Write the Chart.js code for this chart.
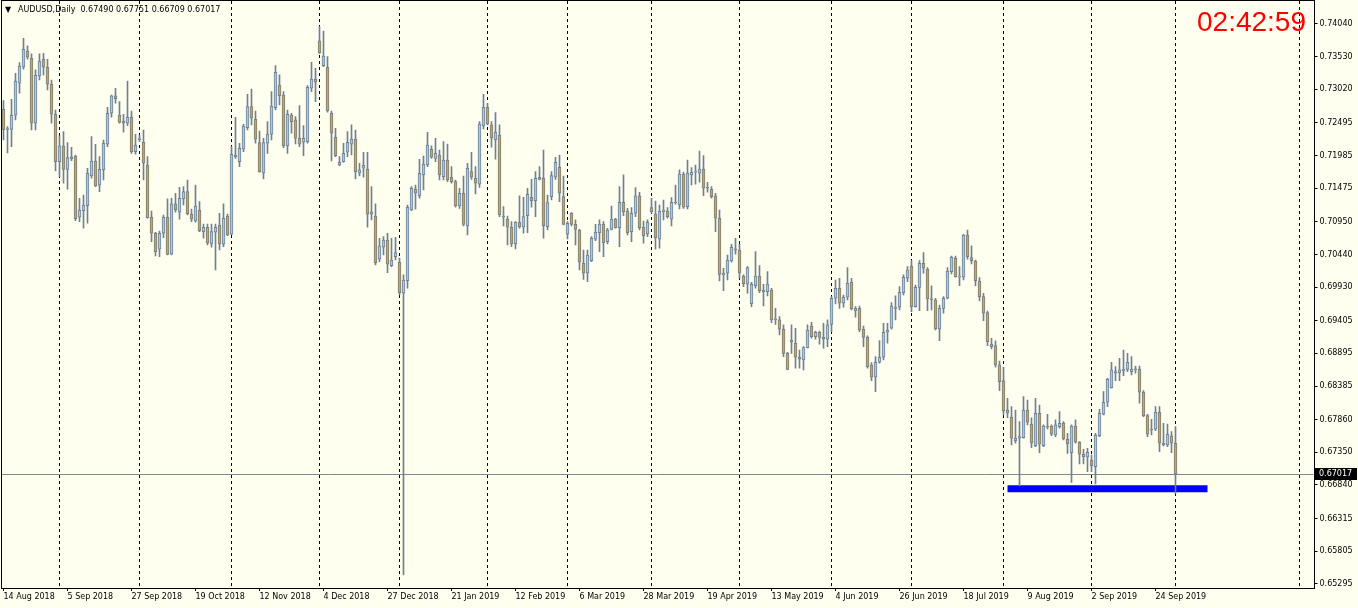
<!DOCTYPE html>
<html>
<head>
<meta charset="utf-8">
<script src="https://cdn.jsdelivr.net/npm/chart.js@4.4.1/dist/chart.umd.min.js"></script>
<style>
  html, body { margin: 0; padding: 0; background: #fffff0; }
  #wrap { width: 1358px; height: 608px; }
</style>
</head>
<body>
<div id="wrap"><canvas id="chart" width="1358" height="608"></canvas></div>
<script>
// AUDUSD daily candles, 14 Aug 2018 .. 1 Oct 2019
const openP = [
  0.72708,0.72392,0.72395,0.72614,0.73114,0.73364,0.73614,0.73504,0.72489,0.73228,
  0.73489,0.73364,0.73098,0.72630,0.71889,0.72135,0.71770,0.71963,0.71978,0.71021,
  0.71124,0.71202,0.71666,0.71900,0.71521,0.71760,0.72161,0.72645,0.72916,0.72619,
  0.72525,0.72489,0.72583,0.72045,0.72244,0.72192,0.71838,0.71021,0.70771,0.70521,
  0.70771,0.71021,0.70443,0.71229,0.71099,0.71307,0.71421,0.71072,0.70963,0.71135,
  0.70796,0.70865,0.70604,0.70787,0.70900,0.70599,0.71041,0.70755,0.71994,0.71889,
  0.72083,0.72420,0.72748,0.72552,0.72186,0.71708,0.72177,0.72317,0.72733,0.73087,
  0.72931,0.72135,0.72619,0.72541,0.72255,0.72192,0.72202,0.73036,0.73181,0.73775,
  0.73389,0.73364,0.72645,0.72270,0.71838,0.71889,0.72036,0.72161,0.72244,0.71708,
  0.71786,0.71775,0.71068,0.71041,0.70365,0.70552,0.70666,0.70265,0.70405,0.70318,
  0.69834,0.70030,0.71135,0.71463,0.71354,0.71682,0.71838,0.72083,0.71942,0.71994,
  0.71655,0.71916,0.71646,0.71577,0.71197,0.71396,0.70885,0.71733,0.71630,0.71536,
  0.72447,0.72739,0.72463,0.72228,0.72306,0.71041,0.70990,0.70865,0.70604,0.70943,
  0.70865,0.71046,0.71333,0.71280,0.71646,0.71630,0.70874,0.71343,0.71646,0.71802,
  0.71343,0.70755,0.71083,0.70911,0.70822,0.70302,0.70146,0.70343,0.70677,0.70780,
  0.70916,0.70640,0.70833,0.70994,0.70858,0.71255,0.71119,0.70796,0.71083,0.71354,
  0.70865,0.70760,0.71171,0.71072,0.70677,0.71108,0.71119,0.70990,0.71255,0.71213,
  0.71697,0.71186,0.71682,0.71724,0.71708,0.71775,0.71489,0.71458,0.71354,0.71005,
  0.70120,0.70146,0.70338,0.70526,0.70510,0.70104,0.69974,0.69671,0.69952,0.70104,
  0.69885,0.69859,0.69885,0.69432,0.69417,0.69271,0.68896,0.69104,0.69053,0.68834,
  0.68792,0.68984,0.69323,0.69156,0.69225,0.69146,0.69115,0.69349,0.69756,0.69912,
  0.69678,0.69771,0.70006,0.69562,0.69599,0.69271,0.69146,0.68714,0.68522,0.68756,
  0.68834,0.69225,0.69287,0.69599,0.69615,0.69843,0.70068,0.70260,0.69624,0.69927,
  0.70302,0.70209,0.69745,0.69729,0.69271,0.69599,0.69756,0.70171,0.70380,0.70084,
  0.70084,0.70744,0.70390,0.70338,0.70026,0.69781,0.69531,0.69042,0.69015,0.68714,
  0.68469,0.68011,0.67897,0.67531,0.67569,0.67578,0.68011,0.67787,0.67453,0.67959,
  0.67453,0.67761,0.67761,0.67620,0.67750,0.67803,0.67553,0.67344,0.67761,0.67506,
  0.67319,0.67272,0.67230,0.67125,0.67609,0.67944,0.68131,0.68359,0.68584,0.68593,
  0.68625,0.68646,0.68609,0.68646,0.68646,0.68287,0.67922,0.67714,0.67709,0.67975,
  0.67491,0.67464,0.67605,0.67490
];
const highP = [
  0.72842,0.72436,0.72864,0.73270,0.73436,0.73817,0.73697,0.73572,0.73322,0.73572,
  0.73583,0.73489,0.73165,0.72697,0.72291,0.72358,0.72186,0.72114,0.71994,0.71318,
  0.71369,0.71786,0.72280,0.72161,0.71967,0.72228,0.72739,0.72931,0.73036,0.72826,
  0.72630,0.73150,0.72681,0.72317,0.72306,0.72384,0.71967,0.71119,0.70787,0.70807,
  0.71057,0.71307,0.71318,0.71396,0.71489,0.71499,0.71603,0.71150,0.71525,0.71264,
  0.70916,0.70916,0.70916,0.70916,0.71083,0.71229,0.71072,0.72124,0.72583,0.72177,
  0.72473,0.72942,0.73025,0.72681,0.72369,0.72255,0.72514,0.72983,0.73389,0.73244,
  0.72983,0.72697,0.72645,0.72592,0.72764,0.72452,0.73076,0.73442,0.73348,0.73998,
  0.73931,0.73529,0.72681,0.72411,0.71967,0.72177,0.72358,0.72463,0.72384,0.71864,
  0.72036,0.72036,0.71499,0.71229,0.70693,0.70718,0.70771,0.70693,0.70708,0.70385,
  0.70120,0.71213,0.71499,0.71525,0.71927,0.71978,0.72349,0.72135,0.72255,0.72072,
  0.72202,0.72166,0.71811,0.71603,0.71474,0.71666,0.71864,0.72036,0.71811,0.72514,
  0.72942,0.72802,0.72514,0.72655,0.72463,0.71186,0.71041,0.70952,0.70952,0.71354,
  0.71333,0.71474,0.71614,0.71733,0.71811,0.72072,0.71369,0.71733,0.71958,0.71994,
  0.71666,0.70952,0.71093,0.70979,0.70833,0.70510,0.70510,0.70718,0.70911,0.70979,
  0.70952,0.70849,0.71197,0.71005,0.71499,0.71682,0.71161,0.71171,0.71483,0.71411,
  0.70963,0.70979,0.71318,0.71275,0.71213,0.71291,0.71171,0.71327,0.71525,0.71760,
  0.71728,0.71916,0.71796,0.71838,0.72056,0.71983,0.71568,0.71499,0.71396,0.71135,
  0.70224,0.70432,0.70599,0.70693,0.70599,0.70120,0.70249,0.70006,0.70483,0.70265,
  0.69974,0.70171,0.69912,0.69599,0.69468,0.69339,0.68912,0.69339,0.69287,0.68948,
  0.69000,0.69339,0.69381,0.69245,0.69245,0.69365,0.69417,0.69781,0.70041,0.70068,
  0.69807,0.70234,0.70068,0.69624,0.69635,0.69323,0.69167,0.68750,0.68843,0.69093,
  0.69365,0.69365,0.69687,0.69792,0.69937,0.70120,0.70249,0.70343,0.69963,0.70343,
  0.70468,0.70234,0.69948,0.69756,0.69651,0.69781,0.70234,0.70416,0.70416,0.70249,
  0.70755,0.70822,0.70573,0.70354,0.70077,0.69834,0.69557,0.69131,0.69089,0.68776,
  0.68678,0.68194,0.68062,0.68011,0.67828,0.68219,0.68167,0.67890,0.68194,0.68089,
  0.67777,0.67944,0.67777,0.67855,0.67984,0.67828,0.67647,0.67777,0.67855,0.67516,
  0.67397,0.67413,0.67308,0.67647,0.68022,0.68297,0.68506,0.68756,0.68687,0.68818,
  0.68948,0.68896,0.68843,0.68698,0.68698,0.68312,0.67944,0.67866,0.68062,0.68062,
  0.67803,0.67792,0.67672,0.67751
];
const lowP = [
  0.72228,0.72025,0.72124,0.72541,0.72958,0.73333,0.73489,0.72384,0.72384,0.73165,
  0.73244,0.73009,0.72489,0.71749,0.71655,0.71552,0.71458,0.71905,0.70968,0.70952,
  0.70849,0.70927,0.71630,0.71499,0.71421,0.71603,0.72124,0.72583,0.72802,0.72489,
  0.72349,0.72452,0.72020,0.72005,0.72202,0.71603,0.71005,0.70640,0.70416,0.70405,
  0.70702,0.70432,0.70432,0.71099,0.70990,0.71213,0.71057,0.70952,0.70943,0.70796,
  0.70693,0.70588,0.70552,0.70198,0.70510,0.70562,0.70733,0.70744,0.71942,0.71811,
  0.72045,0.72384,0.72463,0.72177,0.71724,0.71619,0.72020,0.72228,0.72697,0.72775,
  0.72108,0.72020,0.72333,0.72166,0.72124,0.71983,0.72177,0.72983,0.72826,0.73579,
  0.73373,0.72661,0.71900,0.71967,0.71827,0.71880,0.71967,0.71994,0.71619,0.71666,
  0.71646,0.70865,0.70979,0.70276,0.70327,0.70432,0.70155,0.70249,0.70354,0.69807,
  0.65434,0.69912,0.71124,0.71146,0.71318,0.71447,0.71811,0.71942,0.71889,0.71603,
  0.71603,0.71577,0.71552,0.71177,0.71161,0.70885,0.70744,0.71614,0.71385,0.71489,
  0.72400,0.72463,0.72114,0.71927,0.71030,0.70885,0.70588,0.70562,0.70526,0.70849,
  0.70771,0.70780,0.71177,0.71030,0.71603,0.70693,0.70822,0.71291,0.71614,0.71264,
  0.70900,0.70682,0.70885,0.70588,0.70198,0.70052,0.70015,0.70327,0.70655,0.70483,
  0.70405,0.70604,0.70822,0.70849,0.70562,0.71046,0.70744,0.70640,0.71030,0.70822,
  0.70615,0.70718,0.71083,0.70521,0.70537,0.70979,0.71005,0.70885,0.71224,0.71150,
  0.71161,0.71150,0.71525,0.71536,0.71568,0.71358,0.71411,0.71318,0.70796,0.70026,
  0.69874,0.70041,0.70318,0.70443,0.70068,0.69937,0.69834,0.69624,0.69912,0.69843,
  0.69635,0.69792,0.69374,0.69349,0.69182,0.68843,0.68636,0.68896,0.68662,0.68662,
  0.68636,0.68979,0.69131,0.69115,0.69037,0.68975,0.69000,0.69234,0.69667,0.69599,
  0.69615,0.69729,0.69573,0.69459,0.69234,0.69000,0.68662,0.68469,0.68297,0.68740,
  0.68792,0.69053,0.69271,0.69417,0.69573,0.69807,0.70015,0.69546,0.69615,0.69562,
  0.70146,0.69562,0.69573,0.69260,0.69093,0.69521,0.69745,0.70135,0.70084,0.69952,
  0.70041,0.70365,0.70291,0.69948,0.69713,0.69406,0.69015,0.68964,0.68678,0.68312,
  0.67933,0.67890,0.67464,0.67491,0.66824,0.67569,0.67777,0.67422,0.67438,0.67344,
  0.67438,0.67714,0.67609,0.67594,0.67725,0.67542,0.67334,0.66881,0.67491,0.67167,
  0.67167,0.67047,0.67047,0.66855,0.67594,0.67933,0.68062,0.68350,0.68469,0.68469,
  0.68547,0.68609,0.68558,0.68584,0.68116,0.67906,0.67594,0.67620,0.67687,0.67359,
  0.67448,0.67438,0.67344,0.66709
];
const closeP = [
  0.72384,0.72408,0.72614,0.73150,0.73384,0.73645,0.73520,0.72489,0.73239,0.73462,
  0.73364,0.73098,0.72630,0.71889,0.72135,0.71770,0.71952,0.71936,0.70999,0.71135,
  0.71213,0.71708,0.71900,0.71510,0.71770,0.72177,0.72645,0.72916,0.72873,0.72502,
  0.72489,0.72583,0.72045,0.72150,0.72233,0.71864,0.71015,0.70771,0.70483,0.70771,
  0.71021,0.70440,0.71229,0.71135,0.71318,0.71421,0.71077,0.70990,0.71197,0.70812,
  0.70865,0.70615,0.70796,0.70865,0.70599,0.71005,0.70744,0.72005,0.71967,0.72099,
  0.72447,0.72748,0.72567,0.72239,0.71728,0.72186,0.72322,0.72759,0.73286,0.72920,
  0.72139,0.72630,0.72514,0.72255,0.72161,0.72255,0.73051,0.73181,0.73130,0.73587,
  0.73540,0.72681,0.72333,0.71983,0.71880,0.72020,0.72192,0.72244,0.71733,0.71760,
  0.71838,0.71068,0.71104,0.70312,0.70573,0.70666,0.70287,0.70354,0.70468,0.69843,
  0.70041,0.71177,0.71474,0.71396,0.71708,0.71853,0.72150,0.71958,0.72020,0.71682,
  0.71916,0.71603,0.71577,0.71197,0.71396,0.70911,0.71786,0.71646,0.71552,0.72478,
  0.72739,0.72478,0.72255,0.72349,0.71057,0.71021,0.70865,0.70604,0.70943,0.70874,
  0.71030,0.71380,0.71280,0.71630,0.71614,0.70890,0.71249,0.71671,0.71880,0.71396,
  0.70911,0.70927,0.70911,0.70833,0.70318,0.70146,0.70432,0.70693,0.70787,0.70916,
  0.70624,0.70822,0.70994,0.70858,0.71255,0.71108,0.70780,0.71083,0.71354,0.70858,
  0.70733,0.70943,0.71108,0.70702,0.71119,0.71135,0.71030,0.71255,0.71244,0.71697,
  0.71177,0.71713,0.71724,0.71744,0.71775,0.71474,0.71474,0.71343,0.71005,0.70130,
  0.70146,0.70354,0.70552,0.70505,0.70146,0.69984,0.70234,0.69974,0.70104,0.69874,
  0.69859,0.69979,0.69417,0.69417,0.69271,0.68896,0.68646,0.69068,0.68834,0.68803,
  0.68984,0.69260,0.69156,0.69225,0.69146,0.69115,0.69339,0.69756,0.69912,0.69678,
  0.69771,0.69990,0.69588,0.69599,0.69260,0.69146,0.68687,0.68522,0.68756,0.68834,
  0.69225,0.69260,0.69635,0.69615,0.69849,0.70084,0.70198,0.69624,0.69927,0.70302,
  0.70224,0.69745,0.69729,0.69276,0.69599,0.69756,0.70182,0.70396,0.70093,0.70104,
  0.70744,0.70405,0.70343,0.70030,0.69781,0.69521,0.69078,0.69000,0.68714,0.68453,
  0.68000,0.67959,0.67569,0.67569,0.67594,0.68011,0.67819,0.67491,0.67959,0.67475,
  0.67761,0.67741,0.67631,0.67777,0.67803,0.67558,0.67480,0.67761,0.67506,0.67319,
  0.67281,0.67350,0.67141,0.67620,0.67959,0.68131,0.68490,0.68636,0.68609,0.68636,
  0.68651,0.68756,0.68646,0.68636,0.68287,0.67922,0.67631,0.67698,0.67975,0.67491,
  0.67464,0.67631,0.67491,0.67017
];

const tickDates = [
  '14 Aug 2018', '5 Sep 2018', '27 Sep 2018', '19 Oct 2018', '12 Nov 2018', '4 Dec 2018',
  '27 Dec 2018', '21 Jan 2019', '12 Feb 2019', '6 Mar 2019', '28 Mar 2019', '19 Apr 2019',
  '13 May 2019', '4 Jun 2019', '26 Jun 2019', '18 Jul 2019', '9 Aug 2019', '2 Sep 2019', '24 Sep 2019'
];
const priceTicks = [
  0.74040, 0.73530, 0.73020, 0.72495, 0.71985, 0.71475, 0.70950, 0.70440, 0.69930,
  0.69405, 0.68895, 0.68385, 0.67860, 0.67350, 0.66840, 0.66315, 0.65805, 0.65295
];
const bidPrice = 0.67017;
const clockText = '02:42:59';
// blue support rectangle
const zoneLevel = 0.66782;
const zoneFrom = '2 Aug 2019';
const zoneTo = '11 Oct 2019';
const shiftLineDate = '13 Nov 2019';

// trading days (forex: weekdays, no bar on 25 Dec / 1 Jan), plus empty slots to the right
const MONTHS = ['Jan','Feb','Mar','Apr','May','Jun','Jul','Aug','Sep','Oct','Nov','Dec'];
const closedDays = ['2018-12-25', '2019-01-01'];
const SLOTS = 328;
const dates = [];
const monthOf = [];
for (let d = new Date(Date.UTC(2018, 7, 14)); dates.length < SLOTS; d.setUTCDate(d.getUTCDate() + 1)) {
  const wd = d.getUTCDay();
  if (wd === 0 || wd === 6) continue;
  if (closedDays.includes(d.toISOString().slice(0, 10))) continue;
  dates.push(d.getUTCDate() + ' ' + MONTHS[d.getUTCMonth()] + ' ' + d.getUTCFullYear());
  monthOf.push(d.getUTCMonth());
}

const nBars = openP.length;
const separators = new Set();
for (let i = 1; i < nBars; i++) if (monthOf[i] !== monthOf[i - 1]) separators.add(i);
separators.add(dates.indexOf(shiftLineDate));
const labelIdx = new Set(tickDates.map(t => dates.indexOf(t)));

const lineCol = '#708090';
const bullCol = '#a6c8e8';
const bearCol = '#d9a233';

const wickData = openP.map((o, i) => [lowP[i], highP[i]]);
const bodyData = openP.map((o, i) => [o, closeP[i]]);
const bodyColors = openP.map((o, i) => closeP[i] > o ? bullCol : (closeP[i] < o ? bearCol : lineCol));
const zoneData = dates.map(d => (d === zoneFrom || d === zoneTo) ? zoneLevel : null);

const FONT = { family: 'DejaVu Sans', size: 8 };

const mtPlugin = {
  id: 'mt4_overlay',
  beforeDraw: (chart) => {
    const ctx = chart.ctx;
    ctx.save();
    ctx.fillStyle = '#fffff0';
    ctx.fillRect(0, 0, chart.width, chart.height);
    ctx.restore();
  },
  beforeDatasetsDraw: (chart) => {
    const ctx = chart.ctx, a = chart.chartArea;
    const y = Math.round(chart.scales.y.getPixelForValue(bidPrice)) + 0.5;
    ctx.save();
    ctx.strokeStyle = '#7f8a95';
    ctx.lineWidth = 1;
    ctx.beginPath();
    ctx.moveTo(a.left, y);
    ctx.lineTo(a.right, y);
    ctx.stroke();
    ctx.restore();
  },
  afterDraw: (chart) => {
    const ctx = chart.ctx, a = chart.chartArea;
    ctx.save();
    // frame
    ctx.strokeStyle = '#000';
    ctx.lineWidth = 1;
    ctx.strokeRect(Math.floor(a.left) + 0.5, 0.5, Math.round(a.right) - Math.floor(a.left), Math.round(a.bottom));
    // bid box on the price scale
    const y = Math.round(chart.scales.y.getPixelForValue(bidPrice));
    ctx.fillStyle = '#000';
    ctx.fillRect(Math.round(a.right) + 1, y - 6, 42, 12);
    ctx.fillStyle = '#fff';
    ctx.font = '8px "DejaVu Sans"';
    ctx.textBaseline = 'middle';
    ctx.textAlign = 'left';
    ctx.fillText(bidPrice.toFixed(5), Math.round(a.right) + 5, y);
    // title
    const last = nBars - 1;
    ctx.fillStyle = '#000';
    ctx.fillText('\u25BC', 5, 10);
    ctx.fillText('AUDUSD,Daily  ' + [openP[last], highP[last], lowP[last], closeP[last]].map(v => v.toFixed(5)).join(' '), 18, 10);
    // clock
    ctx.fillStyle = '#ff0000';
    ctx.font = '28px "Liberation Sans"';
    ctx.textAlign = 'right';
    ctx.textBaseline = 'alphabetic';
    ctx.fillText(clockText, 1306, 31);
    ctx.restore();
  }
};

const ctx = document.getElementById('chart').getContext('2d');
const myChart = new Chart(ctx, {
  type: 'bar',
  data: {
    labels: dates,
    datasets: [
      {
        type: 'line',
        data: zoneData,
        borderColor: '#0000ff',
        borderWidth: 7,
        pointRadius: 0,
        spanGaps: true,
        order: 3
      },
      {
        data: wickData,
        backgroundColor: lineCol,
        borderWidth: 0,
        barThickness: 1,
        grouped: false,
        order: 2
      },
      {
        data: bodyData,
        backgroundColor: bodyColors,
        borderColor: lineCol,
        borderWidth: 1,
        borderSkipped: false,
        barThickness: 3,
        minBarLength: 1,
        grouped: false,
        order: 1
      }
    ]
  },
  options: {
    responsive: false,
    animation: false,
    devicePixelRatio: 1,
    events: [],
    layout: { padding: { left: 1.5, top: 1, right: 0, bottom: 0 } },
    plugins: { legend: { display: false }, tooltip: { enabled: false } },
    scales: {
      x: {
        type: 'category',
        offset: true,
        grid: {
          offset: false,
          lineWidth: 1,
          color: (c) => separators.has(c.index) ? '#000' : 'rgba(0,0,0,0)',
          tickColor: (c) => labelIdx.has(c.index) ? '#000' : 'rgba(0,0,0,0)',
          tickLength: 3
        },
        border: { display: false, dash: [3, 3] },
        ticks: {
          autoSkip: false,
          maxRotation: 0,
          minRotation: 0,
          align: 'start',
          padding: 1,
          color: '#000',
          font: FONT,
          callback: (v, i) => labelIdx.has(i) ? dates[i] : ''
        },
        afterFit: (s) => { s.height = 20; s.paddingLeft = 0; s.paddingRight = 0; }
      },
      y: {
        type: 'linear',
        position: 'right',
        min: 0.65230,
        max: 0.74399,
        afterBuildTicks: (s) => { s.ticks = priceTicks.map(v => ({ value: v })); },
        grid: { drawOnChartArea: false, drawTicks: true, tickLength: 4, color: '#000' },
        border: { display: false },
        ticks: {
          autoSkip: false,
          padding: 2,
          color: '#000',
          font: FONT,
          callback: (v) => v.toFixed(5)
        },
        afterFit: (s) => { s.width = 44.5; s.paddingTop = 0; s.paddingBottom = 0; }
      }
    }
  },
  plugins: [mtPlugin]
});
</script>
</body>
</html>
